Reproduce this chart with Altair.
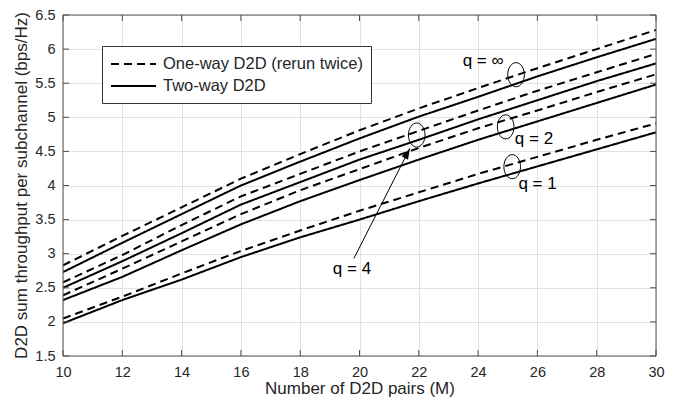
import altair as alt
import pandas as pd

# ---------------- data ----------------
pairs = [10, 12, 14, 16, 18, 20, 22, 24, 26, 28, 30]

one_way_qinf = [2.83, 3.26, 3.68, 4.10, 4.46, 4.81, 5.13, 5.43, 5.72, 6.00, 6.28]
two_way_qinf = [2.73, 3.16, 3.58, 4.00, 4.35, 4.69, 5.01, 5.30, 5.60, 5.88, 6.15]
one_way_q4 = [2.58, 2.98, 3.42, 3.84, 4.17, 4.50, 4.80, 5.10, 5.39, 5.66, 5.93]
two_way_q4 = [2.50, 2.89, 3.30, 3.72, 4.05, 4.38, 4.67, 4.97, 5.25, 5.53, 5.79]
one_way_q2 = [2.39, 2.78, 3.18, 3.58, 3.93, 4.24, 4.55, 4.84, 5.10, 5.37, 5.63]
two_way_q2 = [2.32, 2.66, 3.05, 3.43, 3.77, 4.08, 4.38, 4.67, 4.94, 5.21, 5.48]
one_way_q1 = [2.05, 2.37, 2.71, 3.04, 3.34, 3.63, 3.90, 4.17, 4.42, 4.67, 4.91]
two_way_q1 = [1.98, 2.32, 2.62, 2.95, 3.24, 3.50, 3.77, 4.03, 4.28, 4.53, 4.78]

legend_labels = ["One-way D2D (rerun twice)", "Two-way D2D"]

x_ticks = [10, 12, 14, 16, 18, 20, 22, 24, 26, 28, 30]
y_ticks = [1.5, 2, 2.5, 3, 3.5, 4, 4.5, 5, 5.5, 6, 6.5]

# annotations (data coordinates)
ann_text = ["q = \u221e", "q = 2", "q = 1", "q = 4"]
ann_text_x = [23.48, 25.24, 25.36, 19.10]
ann_text_y = [5.83, 4.68, 4.02, 2.78]
ellipse_x = [25.28, 21.93, 24.93, 25.15]
ellipse_y = [5.625, 4.74, 4.86, 4.276]
arrow_from = (19.81, 2.93)
arrow_to = (21.70, 4.545)

FONT = "Liberation Sans"
TXT = "#262626"

# ---------------- tables ----------------
series = [
    ("qinf", legend_labels[0], one_way_qinf),
    ("qinf", legend_labels[1], two_way_qinf),
    ("q4", legend_labels[0], one_way_q4),
    ("q4", legend_labels[1], two_way_q4),
    ("q2", legend_labels[0], one_way_q2),
    ("q2", legend_labels[1], two_way_q2),
    ("q1", legend_labels[0], one_way_q1),
    ("q1", legend_labels[1], two_way_q1),
]
rows = []
for q, kind, vals in series:
    for m, v in zip(pairs, vals):
        rows.append({"M": m, "thr": v, "kind": kind, "id": q + kind})
df = pd.DataFrame(rows)

xmin, xmax = x_ticks[0], x_ticks[-1]
ymin, ymax = y_ticks[0], y_ticks[-1]
xs = alt.Scale(domain=[xmin, xmax], nice=False, zero=False)
ys = alt.Scale(domain=[ymin, ymax], nice=False, zero=False)

X_TITLE = "Number of D2D pairs (M)"
Y_TITLE = "D2D sum throughput per subchannel (bps/Hz)"

x_axis = alt.Axis(
    values=x_ticks, domain=False, ticks=False, labelOverlap=False, labelFlush=False,
    grid=True, gridColor="#e2e2e2", labelFont=FONT, labelFontSize=14.5,
    labelColor=TXT, labelPadding=9, titleFont=FONT, titleFontSize=17,
    titleFontWeight="normal", titleColor=TXT, titleY=37, titleBaseline="alphabetic")
y_axis = alt.Axis(
    values=y_ticks, format=".1~f", domain=False, ticks=False,
    labelOverlap=False, labelFlush=False, grid=True,
    gridColor="#e2e2e2", labelFont=FONT, labelFontSize=14.5, labelColor=TXT,
    labelPadding=8, titleFont=FONT, titleFontSize=17, titleFontWeight="normal",
    titleColor=TXT, titleX=-37, titleY=170, titleAngle=-90,
    titleBaseline="alphabetic", titleAlign="center")

lines = alt.Chart(df).mark_line(strokeWidth=2, color="black", clip=True).encode(
    x=alt.X("M:Q", scale=xs, title=X_TITLE, axis=x_axis),
    y=alt.Y("thr:Q", scale=ys, title=Y_TITLE, axis=y_axis),
    strokeDash=alt.StrokeDash("kind:N", scale=alt.Scale(
        domain=legend_labels, range=[[8, 5], [1, 0]]),
        legend=alt.Legend(title=None, orient="none", legendX=39, legendY=31,
                          symbolType="M-1,0H4", symbolSize=324, symbolStrokeWidth=2,
                          symbolStrokeColor="black", labelFont=FONT, labelFontSize=16.5,
                          labelColor=TXT, labelOffset=33, labelLimit=400,
                          strokeColor="#333333", fillColor="white", padding=8,
                          rowPadding=3)),
    detail="id:N",
)

def X(f):
    return alt.X(f, scale=xs, title=X_TITLE, axis=x_axis)

def Y(f):
    return alt.Y(f, scale=ys, title=Y_TITLE, axis=y_axis)

# inward tick marks
xt = pd.DataFrame({"t": x_ticks, "lo": ymin, "hi": ymax})
yt = pd.DataFrame({"t": y_ticks, "l": xmin, "r": xmax})
tick_col = "#4d4d4d"
tb = alt.Chart(xt).mark_rule(color=tick_col, strokeWidth=1, y2Offset=-6).encode(
    x=X("t:Q"), y=Y("lo:Q"), y2="lo:Q")
tt = alt.Chart(xt).mark_rule(color=tick_col, strokeWidth=1, y2Offset=6).encode(
    x=X("t:Q"), y=Y("hi:Q"), y2="hi:Q")
tl = alt.Chart(yt).mark_rule(color=tick_col, strokeWidth=1, x2Offset=6).encode(
    y=Y("t:Q"), x=X("l:Q"), x2="l:Q")
tr = alt.Chart(yt).mark_rule(color=tick_col, strokeWidth=1, x2Offset=-6).encode(
    y=Y("t:Q"), x=X("r:Q"), x2="r:Q")

# frame
frame_df = pd.DataFrame({
    "x": [xmin, xmin, xmin, xmax], "x2": [xmax, xmax, xmin, xmax],
    "y": [ymin, ymax, ymin, ymin], "y2": [ymin, ymax, ymax, ymax]})
frame = alt.Chart(frame_df).mark_rule(color="#555555", strokeWidth=1).encode(
    x=X("x:Q"), x2="x2:Q", y=Y("y:Q"), y2="y2:Q")

# ellipses
ell_df = pd.DataFrame({"x": ellipse_x, "y": ellipse_y})
ELL = "M0,-1.45 A1,1.45 0 1,1 0,1.45 A1,1.45 0 1,1 0,-1.45 Z"
ells = alt.Chart(ell_df).mark_point(shape=ELL, size=276, filled=False,
                                     color="black", strokeWidth=1, opacity=1).encode(
    x=X("x:Q"), y=Y("y:Q"))

# text labels
txt_df = pd.DataFrame({"x": ann_text_x, "y": ann_text_y, "t": ann_text})
texts = alt.Chart(txt_df).mark_text(align="left", baseline="middle", font=FONT,
                                    fontSize=17, color="black").encode(
    x=X("x:Q"), y=Y("y:Q"), text="t:N")

# arrow
arr_df = pd.DataFrame({"x": [arrow_from[0]], "y": [arrow_from[1]],
                       "x2": [arrow_to[0]], "y2": [arrow_to[1]]})
arrow = alt.Chart(arr_df).mark_rule(color="black", strokeWidth=1).encode(
    x=X("x:Q"), y=Y("y:Q"), x2="x2:Q", y2="y2:Q")
HEAD = "M0,0 L-0.32,1 L0.32,1 Z"
head = alt.Chart(arr_df).mark_point(shape=HEAD, size=484, filled=True, color="black",
                                    angle=27, opacity=1).encode(
    x=X("x2:Q"), y=Y("y2:Q"))

chart = alt.layer(lines, tb, tt, tl, tr, ells, texts, arrow, head, frame).properties(
    width=593, height=341,
    autosize=alt.AutoSizeParams(type="none"),
    padding={"left": 63, "top": 15, "right": 22, "bottom": 45},
    background="white",
).configure_view(strokeWidth=0)

chart.save("out.html", embed_options={"renderer": "svg", "actions": False})
